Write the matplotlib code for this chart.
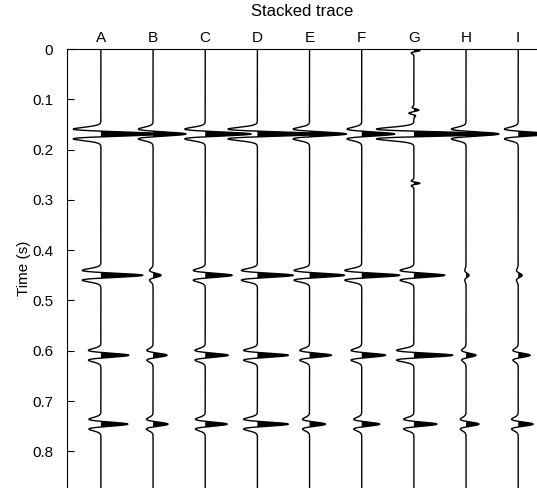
import numpy as np
import matplotlib
matplotlib.use("Agg")
import matplotlib.pyplot as plt

plt.rcParams['font.family'] = ['Liberation Sans', 'DejaVu Sans']

# trace labels and reflection times (s)
trace_labels = ['A', 'B', 'C', 'D', 'E', 'F', 'G', 'H', 'I']
event_times = [0.169, 0.450, 0.609, 0.746]

# peak amplitude of each event on each trace (one row per event)
amp_t1 = [62, 33, 46, 66, 37, 33, 84, 33, 31]
amp_t2 = [42, 8, 27, 36, 35, 38, 31, 3, 4]
amp_t3 = [28, 14, 23, 31, 22, 24, 39, 10, 12]
amp_t4 = [27, 15, 22, 31, 16, 18, 23, 13, 15]
amps = [amp_t1, amp_t2, amp_t3, amp_t4]

# small glitches seen on trace G
glitch_times = [0.003, 0.121, 0.128, 0.267]
glitch_amps = [6, 4, -4, 6]

freq = 40.0        # dominant wavelet frequency (Hz)
amp_unit = 52.2    # amplitude units per trace spacing

t = np.arange(0, 0.9, 0.0005)


def ricker(tt, f):
    a = (np.pi * f * tt) ** 2
    return (1 - 2 * a) * np.exp(-a)


fig = plt.figure(figsize=(5.37, 4.88), dpi=100)
ax = fig.add_axes([67 / 537, 0.0, 470 / 537, 1 - 49 / 488])

for i, lab in enumerate(trace_labels):
    tr = np.zeros_like(t)
    for k, te in enumerate(event_times):
        tr += amps[k][i] * ricker(t - te, freq)
    if lab == 'G':
        for te, a in zip(glitch_times, glitch_amps):
            tr += a * ricker(t - te, freq * 2)
    x0 = i + 1
    x = x0 + tr / amp_unit
    ax.fill_betweenx(t, x0, x, where=tr > 0, color='black', lw=0)
    ax.plot(x, t, color='black', lw=1.0)

ax.set_ylim(0.873, 0)
ax.set_xlim(0.35, 9.36)
ax.set_yticks(np.arange(0, 0.81, 0.1))
ax.set_yticklabels(['0'] + ['%.1f' % v for v in np.arange(0.1, 0.81, 0.1)])
ax.set_xticks(range(1, 10))
ax.set_xticklabels(trace_labels)
ax.xaxis.tick_top()
ax.tick_params(axis='x', length=0, pad=3, labelsize=11)
ax.tick_params(axis='y', direction='in', length=5, pad=10, labelsize=11)
ax.spines['right'].set_visible(False)
ax.spines['bottom'].set_visible(False)
ax.set_ylabel('Time (s)', fontsize=11, labelpad=1)

fig.text(302 / 537, 1 - 12 / 488, 'Stacked trace', ha='center', va='center', fontsize=12)

fig.savefig('out.png', dpi=100)
